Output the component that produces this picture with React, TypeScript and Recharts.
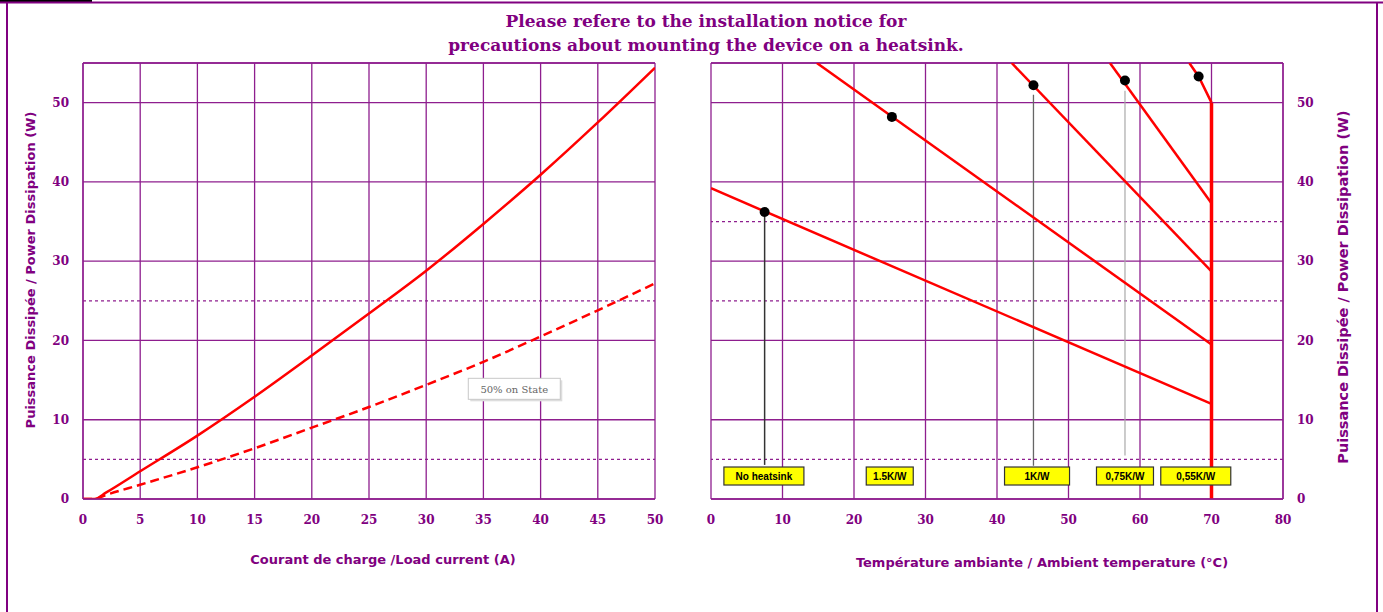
import React from 'react';
import { ComposedChart, Line, Scatter, XAxis, YAxis, CartesianGrid, ReferenceLine, ReferenceDot } from 'recharts';

// ---------- data ----------
const loadCurrent = [0, 1, 2, 5, 10, 15, 20, 25, 30, 35, 40, 45, 50];
const powerFull = [0, 0, 0.8, 3.5, 8, 12.9, 18.1, 23.4, 28.8, 34.7, 40.9, 47.5, 54.4];
const powerHalf = [0, 0, 0.5, 1.8, 4, 6.4, 9, 11.6, 14.4, 17.3, 20.5, 23.8, 27.2];

const leftXTicks = [0, 5, 10, 15, 20, 25, 30, 35, 40, 45, 50];
const rightXTicks = [0, 10, 20, 30, 40, 50, 60, 70, 80];
const yTicks = [0, 10, 20, 30, 40, 50];

const noHeatsinkT = [0, 70];
const noHeatsinkP = [39.2, 12];
const k15T = [14.8, 70];
const k15P = [55, 19.5];
const k1T = [42.05, 70];
const k1P = [55, 28.7];
const k075T = [55.8, 70];
const k075P = [55, 37.3];
const k055T = [66.9, 68.2, 70];
const k055P = [55, 53.3, 50];
const limitT = [70, 70];
const limitP = [50, 0];

const dotT = [7.5, 25.3, 45.1, 57.9, 68.2];
const dotP = [36.2, 48.2, 52.2, 52.8, 53.3];

const heatsinkNames = ['No heatsink', '1.5K/W', '1K/W', '0,75K/W', '0,55K/W'];
const heatsinkLabelT = [7.4, 25.0, 45.6, 57.9, 67.8];

const halfLabel = '50% on State';

// ---------- helpers ----------
const zip = (xs: number[], ys: number[]) => xs.map((x, i) => ({ x, y: ys[i] }));

const GRID = '#8E1E8E';
const PURPLE = '#800080';
const RED = '#FF0000';
const tickStyle = { fill: PURPLE, fontFamily: 'DejaVu Serif', fontWeight: 700, fontSize: 12 };

const labelWidths = [80, 47, 65, 57, 70];

const HeatLabel = (props: any) => {
  const { cx, cy, text, w } = props;
  const h = 18;
  return (
    <g>
      <rect x={cx - w / 2} y={cy - h / 2} width={w} height={h} fill="#FFFF00" stroke="#333" strokeWidth={1.2} />
      <text x={cx} y={cy + 4} textAnchor="middle" fontFamily="Liberation Sans, Arial, sans-serif" fontWeight={700} fontSize={10} fill="#000">
        {text}
      </text>
    </g>
  );
};

const HalfLabel = (props: any) => {
  const { cx, cy } = props;
  const w = 92;
  const h = 21;
  return (
    <g>
      <rect x={cx - w / 2 + 2} y={cy - h / 2 + 2} width={w} height={h} fill="#ddd" />
      <rect x={cx - w / 2} y={cy - h / 2} width={w} height={h} fill="#fff" stroke="#c8c8c8" strokeWidth={1} />
      <text x={cx} y={cy + 4} textAnchor="middle" fontFamily="DejaVu Serif, serif" fontSize={10} fill="#666">
        {halfLabel}
      </text>
    </g>
  );
};

const Dot = (p: any) => <circle cx={p.cx} cy={p.cy} r={5} fill="#000" />;

const LeftChart = () => (
  <ComposedChart width={700} height={612} margin={{ top: 63, right: 45, bottom: 83, left: 43 }}>
    <CartesianGrid stroke={GRID} strokeWidth={1.3} />
    <XAxis
      type="number"
      dataKey="x"
      domain={[0, 50]}
      ticks={leftXTicks}
      allowDataOverflow
      axisLine={{ stroke: GRID, strokeWidth: 1.3 }}
      tickLine={false}
      tickSize={8}
      tickMargin={8}
      tick={tickStyle}
      height={30}
    />
    <YAxis
      type="number"
      dataKey="y"
      domain={[0, 55]}
      ticks={yTicks}
      allowDataOverflow
      axisLine={{ stroke: GRID, strokeWidth: 1.3 }}
      tickLine={false}
      tickSize={8}
      tickMargin={6}
      tick={tickStyle}
      width={40}
    />
    <ReferenceLine y={55} stroke={GRID} strokeWidth={1.3} />
    <ReferenceLine y={5} stroke={GRID} strokeWidth={1.2} strokeDasharray="3 3" />
    <ReferenceLine y={25} stroke={GRID} strokeWidth={1.2} strokeDasharray="3 3" />
    <Line data={zip(loadCurrent, powerFull)} dataKey="y" type="monotone" stroke={RED} strokeWidth={2.5} dot={false} isAnimationActive={false} />
    <Line data={zip(loadCurrent, powerHalf)} dataKey="y" type="monotone" stroke={RED} strokeWidth={2.5} strokeDasharray="9 5" dot={false} isAnimationActive={false} />
    <ReferenceDot x={37.7} y={13.9} r={0} shape={(p: any) => <HalfLabel cx={p.cx} cy={p.cy} />} />
  </ComposedChart>
);

const RightChart = () => (
  <ComposedChart width={693} height={612} margin={{ top: 63, right: 60, bottom: 83, left: 21 }}>
    <CartesianGrid stroke={GRID} strokeWidth={1.3} />
    <XAxis
      type="number"
      dataKey="x"
      domain={[0, 80]}
      ticks={rightXTicks}
      allowDataOverflow
      axisLine={{ stroke: GRID, strokeWidth: 1.3 }}
      tickLine={false}
      tickSize={8}
      tickMargin={8}
      tick={tickStyle}
      height={30}
    />
    <YAxis
      orientation="right"
      type="number"
      dataKey="y"
      domain={[0, 55]}
      ticks={yTicks}
      allowDataOverflow
      axisLine={{ stroke: GRID, strokeWidth: 1.3 }}
      tickLine={false}
      tickSize={8}
      tickMargin={6}
      tick={{ ...tickStyle, textAnchor: 'start' }}
      width={40}
    />
    <ReferenceLine y={55} stroke={GRID} strokeWidth={1.3} />
    <ReferenceLine y={5} stroke={GRID} strokeWidth={1.2} strokeDasharray="3 3" />
    <ReferenceLine y={25} stroke={GRID} strokeWidth={1.2} strokeDasharray="3 3" />
    <ReferenceLine y={35} stroke={GRID} strokeWidth={1.2} strokeDasharray="3 3" />
    {/* leader lines */}
    <Line data={zip([dotT[0], dotT[0]], [dotP[0], 4.3])} dataKey="y" type="linear" stroke="#333" strokeWidth={1.5} dot={false} isAnimationActive={false} />
    <Line data={zip([dotT[2], dotT[2]], [51, 4.2])} dataKey="y" type="linear" stroke="#666" strokeWidth={1.3} dot={false} isAnimationActive={false} />
    <Line data={zip([dotT[3], dotT[3]], [51.5, 5.5])} dataKey="y" type="linear" stroke="#aaa" strokeWidth={1.2} dot={false} isAnimationActive={false} />
    {/* derating curves */}
    <Line data={zip(noHeatsinkT, noHeatsinkP)} dataKey="y" type="linear" stroke={RED} strokeWidth={2.5} dot={false} isAnimationActive={false} />
    <Line data={zip(k15T, k15P)} dataKey="y" type="linear" stroke={RED} strokeWidth={2.5} dot={false} isAnimationActive={false} />
    <Line data={zip(k1T, k1P)} dataKey="y" type="linear" stroke={RED} strokeWidth={2.5} dot={false} isAnimationActive={false} />
    <Line data={zip(k075T, k075P)} dataKey="y" type="linear" stroke={RED} strokeWidth={2.5} dot={false} isAnimationActive={false} />
    <Line data={zip(k055T, k055P)} dataKey="y" type="linear" stroke={RED} strokeWidth={2.5} dot={false} isAnimationActive={false} />
    <Line data={zip(limitT, limitP)} dataKey="y" type="linear" stroke={RED} strokeWidth={3.5} dot={false} isAnimationActive={false} />
    <Scatter data={zip(dotT, dotP)} dataKey="y" shape={Dot} isAnimationActive={false} />
    {heatsinkNames.map((name, i) => (
      <ReferenceDot
        key={name}
        x={heatsinkLabelT[i]}
        y={2.9}
        r={0}
        shape={(p: any) => <HeatLabel cx={p.cx} cy={p.cy} text={name} w={labelWidths[i]} />}
      />
    ))}
  </ComposedChart>
);

export default function App() {
  const axisTitle = {
    fontFamily: 'DejaVu Sans, sans-serif',
    fontWeight: 700,
    fill: PURPLE,
  } as const;
  return (
    <div style={{ position: 'absolute', left: 0, top: 0, width: 1383, height: 612, background: '#fff', overflow: 'hidden' }}>
      <div style={{ position: 'absolute', left: 0, top: 0 }}>
        <LeftChart />
      </div>
      <div style={{ position: 'absolute', left: 690, top: 0 }}>
        <RightChart />
      </div>
      <svg width={1383} height={612} style={{ position: 'absolute', left: 0, top: 0, pointerEvents: 'none' }}>
        <rect x={0} y={0} width={92} height={3} fill="#000" />
        <line x1={0} y1={2.5} x2={1383} y2={2.5} stroke={PURPLE} strokeWidth={2} />
        <line x1={7} y1={2} x2={7} y2={612} stroke={PURPLE} strokeWidth={2} />
        <line x1={1377} y1={2} x2={1377} y2={612} stroke={PURPLE} strokeWidth={2} />
        <text x={706} y={27} textAnchor="middle" fontFamily="DejaVu Serif, serif" fontWeight={700} fontSize={17} fill={PURPLE}>
          Please refere to the installation notice for
        </text>
        <text x={706} y={51} textAnchor="middle" fontFamily="DejaVu Serif, serif" fontWeight={700} fontSize={17} fill={PURPLE}>
          precautions about mounting the device on a heatsink.
        </text>
        <text x={383} y={564} textAnchor="middle" fontSize={13} {...axisTitle}>
          Courant de charge /Load current (A)
        </text>
        <text x={1042} y={567} textAnchor="middle" fontSize={13} {...axisTitle}>
          Température ambiante / Ambient temperature (°C)
        </text>
        <text x={35} y={270} transform="rotate(-90 35 270)" textAnchor="middle" fontSize={13} {...axisTitle}>
          Puissance Dissipée / Power Dissipation (W)
        </text>
        <text x={1348} y={287} transform="rotate(-90 1348 287)" textAnchor="middle" fontSize={14.5} {...axisTitle}>
          Puissance Dissipée / Power Dissipation (W)
        </text>
      </svg>
    </div>
  );
}
